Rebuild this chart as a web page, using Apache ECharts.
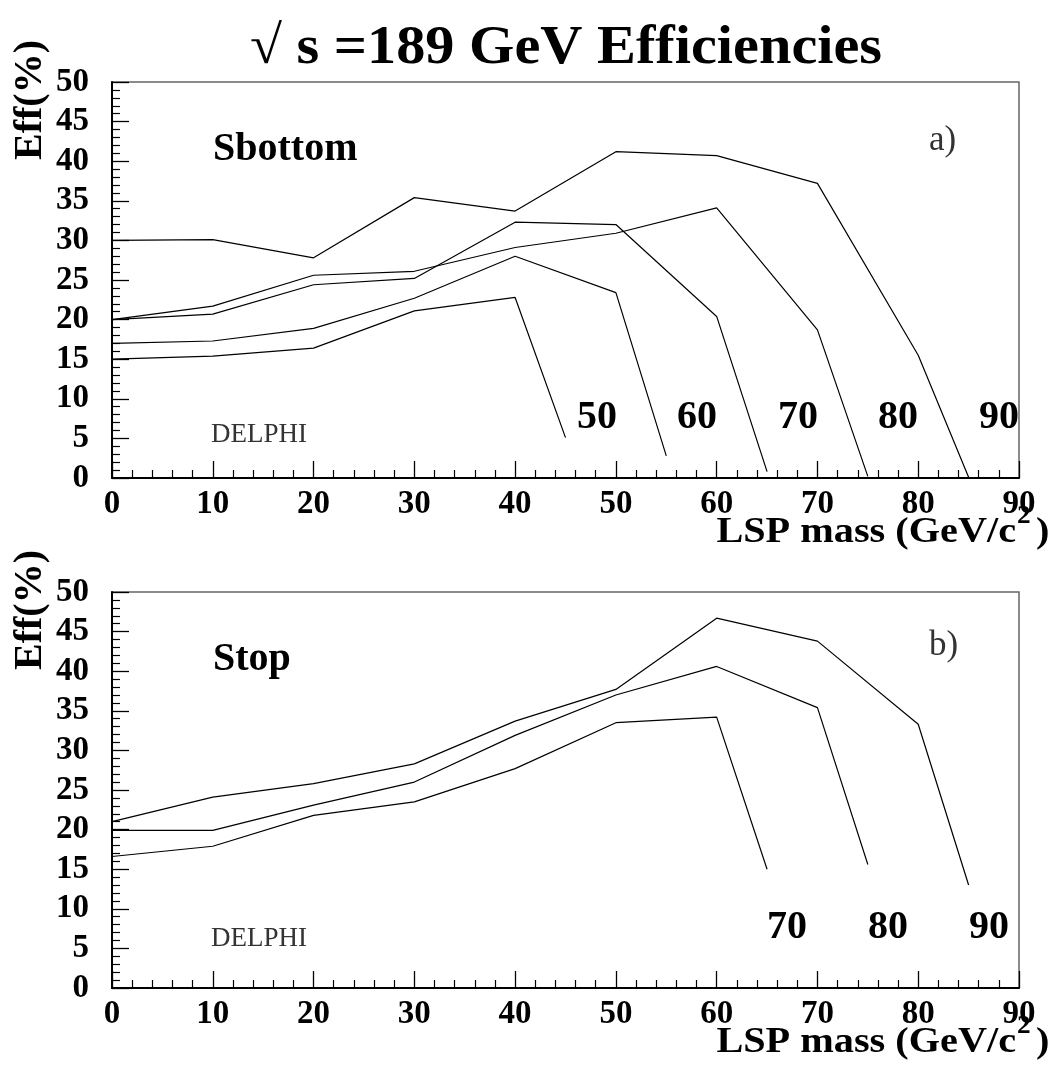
<!DOCTYPE html>
<html>
<head>
<meta charset="utf-8">
<script src="https://cdn.jsdelivr.net/npm/echarts@6/dist/echarts.min.js"></script>
<style>
html,body{margin:0;padding:0;background:#fff;}
#chart{width:1057px;height:1076px;}
</style>
</head>
<body>
<div id="chart"></div>
<script>
// ---------- data ----------
// LSP mass values for each curve (GeV/c^2)
const sbottom50X = [0, 10, 20, 30, 40, 45];
const sbottom50Y = [15.0, 15.4, 16.4, 21.1, 22.8, 5.1];
const sbottom60X = [0, 10, 20, 30, 40, 50, 55];
const sbottom60Y = [17.0, 17.3, 18.9, 22.7, 28.0, 23.4, 2.8];
const sbottom70X = [0, 10, 20, 30, 40, 50, 60, 65];
const sbottom70Y = [20.0, 20.7, 24.4, 25.2, 32.3, 32.0, 20.4, 0.8];
const sbottom80X = [0, 10, 20, 30, 40, 50, 60, 70, 75];
const sbottom80Y = [20.0, 21.7, 25.6, 26.1, 29.1, 30.9, 34.1, 18.7, 0.2];
const sbottom90X = [0, 10, 20, 30, 40, 50, 60, 70, 80, 85];
const sbottom90Y = [30.0, 30.1, 27.8, 35.4, 33.7, 41.2, 40.7, 37.2, 15.5, 0.1];

const stop70X = [0, 10, 20, 30, 40, 50, 60, 65];
const stop70Y = [16.6, 17.9, 21.8, 23.5, 27.7, 33.5, 34.2, 15.0];
const stop80X = [0, 10, 20, 30, 40, 50, 60, 70, 75];
const stop80Y = [19.9, 19.9, 23.1, 26.0, 31.9, 37.0, 40.6, 35.4, 15.6];
const stop90X = [0, 10, 20, 30, 40, 50, 60, 70, 80, 85];
const stop90Y = [21.0, 24.1, 25.8, 28.3, 33.7, 37.7, 46.7, 43.8, 33.3, 13.0];

const xTicks = [0, 10, 20, 30, 40, 50, 60, 70, 80, 90];
const yTicks = [0, 5, 10, 15, 20, 25, 30, 35, 40, 45, 50];

const sbottomCurves = [
  {name: '50', x: sbottom50X, y: sbottom50Y},
  {name: '60', x: sbottom60X, y: sbottom60Y},
  {name: '70', x: sbottom70X, y: sbottom70Y},
  {name: '80', x: sbottom80X, y: sbottom80Y},
  {name: '90', x: sbottom90X, y: sbottom90Y}
];
const stopCurves = [
  {name: '70', x: stop70X, y: stop70Y},
  {name: '80', x: stop80X, y: stop80Y},
  {name: '90', x: stop90X, y: stop90Y}
];

// ---------- chart ----------
const FONT = 'Liberation Serif';
const chart = echarts.init(document.getElementById('chart'), null, {renderer: 'canvas'});

function zip(xs, ys) { return xs.map((v, i) => [v, ys[i]]); }

function lineSeries(c, gi) {
  return {
    type: 'line', name: c.name, xAxisIndex: gi, yAxisIndex: gi,
    data: zip(c.x, c.y), showSymbol: false, symbol: 'none', smooth: false,
    lineStyle: {color: '#000', width: 1.2}, silent: true
  };
}

function xAxisDef(gi) {
  return {
    gridIndex: gi, type: 'value', min: xTicks[0], max: xTicks[xTicks.length - 1], interval: 10,
    axisLine: {show: true, onZero: false, lineStyle: {color: '#000', width: 2}},
    axisTick: {show: true, inside: true, length: 17, lineStyle: {color: '#000', width: 1.3}},
    minorTick: {show: true, splitNumber: 5, length: 8, lineStyle: {color: '#000', width: 1.2}},
    splitLine: {show: false},
    axisLabel: {fontFamily: FONT, fontWeight: 'bold', fontSize: 33, color: '#000', margin: 10}
  };
}
function yAxisDef(gi) {
  return {
    gridIndex: gi, type: 'value', min: yTicks[0], max: yTicks[yTicks.length - 1], interval: 5,
    axisLine: {show: true, onZero: false, lineStyle: {color: '#000', width: 2}},
    axisTick: {show: true, inside: true, length: 17, lineStyle: {color: '#000', width: 1.3}},
    minorTick: {show: true, splitNumber: 5, length: 8, lineStyle: {color: '#000', width: 1.2}},
    splitLine: {show: false},
    axisLabel: {fontFamily: FONT, fontWeight: 'bold', fontSize: 33, color: '#000', margin: 23}
  };
}

function txt(text, x, baseline, size, opt) {
  opt = opt || {};
  return {
    type: 'text', x: x, y: baseline - 0.3 * size,
    scaleX: opt.scaleX || 1, rotation: opt.rotation || 0, z: 100,
    style: {
      text: text, fontFamily: FONT, fontSize: size,
      fontWeight: opt.weight || 'bold', fill: opt.color || '#000',
      align: opt.align || 'left', verticalAlign: 'middle'
    }
  };
}

// x-axis title drawn as three pieces so that the superscript sits like the reference
function xTitle(baseline) {
  return [
    txt('LSP mass (GeV/c', 1016, baseline, 35, {align: 'right', scaleX: 1.15}),
    txt('2', 1017, baseline - 19, 26, {align: 'left', scaleX: 1.05}),
    txt(')', 1036, baseline, 35, {align: 'left', scaleX: 1.15})
  ];
}

function yTitle(startY) {
  return {
    type: 'text', x: 43 - 0.3 * 40, y: startY, rotation: Math.PI / 2, z: 100,
    style: {
      text: 'Eff(%)', fontFamily: FONT, fontSize: 40, fontWeight: 'bold', fill: '#000',
      align: 'left', verticalAlign: 'middle'
    }
  };
}

const option = {
  animation: false,
  backgroundColor: '#fff',
  grid: [
    {left: 112, top: 82, width: 907, height: 396, show: true, borderColor: '#666', borderWidth: 1.5, backgroundColor: 'transparent'},
    {left: 112, top: 592, width: 907, height: 396, show: true, borderColor: '#666', borderWidth: 1.5, backgroundColor: 'transparent'}
  ],
  xAxis: [xAxisDef(0), xAxisDef(1)],
  yAxis: [yAxisDef(0), yAxisDef(1)],
  series: sbottomCurves.map(c => lineSeries(c, 0)).concat(stopCurves.map(c => lineSeries(c, 1))),
  graphic: [
    txt('\u221A s =189 GeV Efficiencies', 566, 65, 54, {align: 'center', scaleX: 1.08}),
    txt('Sbottom', 213, 162, 40),
    txt('Stop', 213, 672, 40),
    txt('DELPHI', 211, 443, 27, {weight: 'normal', color: '#333'}),
    txt('DELPHI', 211, 947, 27, {weight: 'normal', color: '#333'}),
    txt('a)', 929, 151, 35, {weight: 'normal', color: '#333'}),
    txt('b)', 929, 656, 35, {weight: 'normal', color: '#333'}),
    txt('50', 577, 430, 40),
    txt('60', 677, 430, 40),
    txt('70', 778, 430, 40),
    txt('80', 878, 430, 40),
    txt('90', 979, 430, 40),
    txt('70', 767, 940, 40),
    txt('80', 868, 940, 40),
    txt('90', 969, 940, 40),
    yTitle(160),
    yTitle(670)
  ].concat(xTitle(543), xTitle(1053))
};
chart.setOption(option);
</script>
</body>
</html>
